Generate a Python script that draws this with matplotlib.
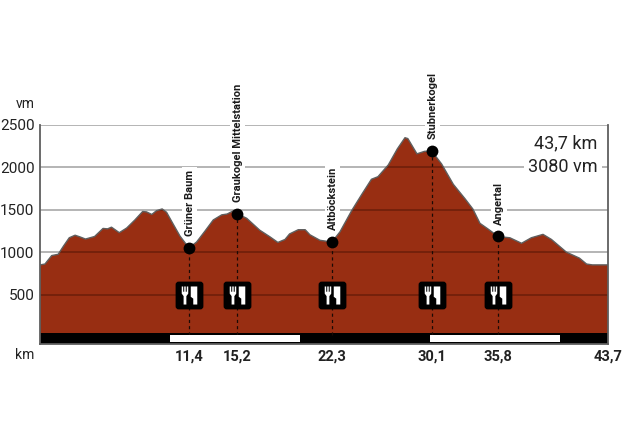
import matplotlib
matplotlib.use("Agg")
import matplotlib.pyplot as plt
from matplotlib.path import Path

# ---------------------------------------------------------------------------
# Data
# ---------------------------------------------------------------------------
km = [0, 0.38, 0.9, 1.4, 1.8, 2.25, 2.7, 3.08, 3.5, 4.2, 4.85, 5.2, 5.5, 6.1,
      6.67, 7.3, 7.9, 8.2, 8.6, 8.97, 9.4, 9.74, 10.25, 10.77, 11.46, 12.05,
      12.7, 13.33, 13.98, 14.4, 14.9, 15.15, 15.9, 16.9, 17.7, 18.3, 18.85,
      19.2, 19.87, 20.4, 20.77, 21.54, 22.46, 23.08, 23.98, 24.75, 25.5, 26,
      26.8, 27.5, 28.08, 28.3, 29, 29.6, 30.15, 30.9, 31.8, 32.7, 33.3, 33.85,
      34.5, 35.25, 36.15, 37.05, 37.8, 38.7, 39.35, 40.5, 41.5, 42.05, 42.5,
      43.7]
elevation = [850, 860, 960, 975, 1070, 1170, 1200, 1180, 1155, 1185, 1280, 1275,
             1295, 1230, 1285, 1380, 1480, 1475, 1445, 1490, 1510, 1470, 1330,
             1190, 1050, 1120, 1250, 1380, 1440, 1450, 1490, 1455, 1400, 1260,
             1180, 1115, 1150, 1215, 1265, 1265, 1205, 1140, 1120, 1240, 1490,
             1680, 1860, 1890, 2030, 2220, 2350, 2340, 2160, 2190, 2190, 2040,
             1800, 1630, 1510, 1340, 1270, 1185, 1170, 1105, 1170, 1210, 1150,
             1000, 930, 860, 850, 850]

stop_names = ["Grüner Baum", "Graukogel Mittelstation", "Altböckstein",
              "Stubnerkogel", "Angertal"]
stop_km = [11.46, 15.15, 22.46, 30.15, 35.25]   # where they sit on the drawing
stop_elev = [1050, 1455, 1120, 2190, 1185]
stop_labels = ["11,4", "15,2", "22,3", "30,1", "35,8"]

end_km = 43.7
end_label = "43,7"
y_ticks = [500, 1000, 1500, 2000, 2500]
band_edges = [0, 10, 20, 30, 40, 43.7]

FILL = "#982e12"
LINE = "#5f5f5f"
FONT = ["Roboto", "DejaVu Sans"]

W, H = 625, 425
fig = plt.figure(figsize=(W / 100, H / 100), dpi=100)
ax = fig.add_axes([40 / W, (H - 344) / H, 568 / W, (344 - 125) / H])
ax.set_xlim(0, end_km)
ax.set_ylim(-83, 2500)

# gridlines: grey on the white part, dark where they cross the profile
ax.hlines(y_ticks, 0, end_km, color="#a0a0a0", lw=1.1, zorder=1)
poly, = ax.fill(km + [end_km, 0], elevation + [0, 0], color=FILL, lw=0, zorder=2)
dark = ax.hlines(y_ticks, 0, end_km, color="#6b1e0a", lw=1.1, zorder=3)
dark.set_clip_path(poly)
ax.plot(km, elevation, color=LINE, lw=1.0, zorder=4)

# 10 km band along the bottom
ax.fill_between([0, end_km], -83, 47, color="black", lw=0, zorder=5)
for i in range(1, len(band_edges) - 1, 2):
    ax.fill_between(band_edges[i:i + 2], -59, 24, color="white", lw=0, zorder=6)

# ---------------------------------------------------------------------------
# Fork and knife icon on a rounded square, both used as markers
# ---------------------------------------------------------------------------
verts = [(-0.62, 0.15), (-0.62, 0.72), (-0.5, 0.72), (-0.5, 0.3), (-0.42, 0.3),
         (-0.42, 0.72), (-0.3, 0.72), (-0.3, 0.3), (-0.22, 0.3), (-0.22, 0.72),
         (-0.1, 0.72), (-0.1, 0.15), (-0.25, -0.05), (-0.25, -0.72), (-0.47, -0.72),
         (-0.47, -0.05), (-0.62, 0.15),
         (0.1, 0.72), (0.62, 0.72), (0.62, -0.72), (0.3, -0.72), (0.3, -0.25),
         (0.1, -0.1), (0.1, 0.72)]
codes = [Path.MOVETO] + [Path.LINETO] * 16 + [Path.MOVETO] + [Path.LINETO] * 6
icon = Path(verts, codes)

r = 0.22
box_verts = [(-1 + r, -1), (1 - r, -1), (1, -1), (1, -1 + r), (1, 1 - r), (1, 1),
             (1 - r, 1), (-1 + r, 1), (-1, 1), (-1, 1 - r), (-1, -1 + r), (-1, -1),
             (-1 + r, -1), (-1 + r, -1)]
box_codes = [Path.MOVETO, Path.LINETO, Path.CURVE3, Path.CURVE3, Path.LINETO,
             Path.CURVE3, Path.CURVE3, Path.LINETO, Path.CURVE3, Path.CURVE3,
             Path.LINETO, Path.CURVE3, Path.CURVE3, Path.CLOSEPOLY]
box = Path(box_verts, box_codes)

for x, name, y in zip(stop_km, stop_names, stop_elev):
    ax.plot([x, x], [24, y], color="#1a0a05", lw=0.9, ls=(0, (2.5, 2.5)), zorder=5)
    ax.plot(x, y, "o", color="black", ms=8.5, mew=0, zorder=8)
    # below the fill, so the white halo only breaks the gridlines
    ax.annotate(name, (x, y), xytext=(0.5, 8.5), textcoords="offset points",
                rotation=90, ha="center", va="bottom", fontsize=8,
                fontweight="bold", family=FONT, color="#1a1a1a", zorder=1.5,
                bbox=dict(fc="white", ec="none", pad=2))
    ax.plot(x, 497, marker=box, color="black", ms=20, mew=0, zorder=7)
    ax.plot(x, 497, marker=icon, color="white", ms=13, mew=0, zorder=8)

# distance and climb
ax.text(42.9, 2280, "43,7 km", ha="right", va="center", fontsize=13,
        family=FONT, color="#222222", zorder=9)
ax.text(42.9, 2000, "3080 vm", ha="right", va="center", fontsize=13,
        family=FONT, color="#222222", zorder=9,
        bbox=dict(fc="white", ec="none", pad=3))

ax.spines["top"].set_visible(False)
for s in ["left", "right", "bottom"]:
    ax.spines[s].set_color(LINE)
    ax.spines[s].set_linewidth(1.3)
    ax.spines[s].set_zorder(10)

ax.set_yticks(y_ticks)
ax.set_yticklabels([str(v) for v in y_ticks], family=FONT, fontsize=11, color="#222222")
ax.set_xticks(stop_km + [end_km])
ax.set_xticklabels(stop_labels + [end_label], family=FONT, fontsize=10.5,
                   fontweight="bold", color="#222222")
ax.tick_params(length=0, pad=4)
ax.tick_params(axis="x", pad=4)

fig.text(35 / W, (H - 104) / H, "vm", ha="right", va="center", fontsize=10,
         family=FONT, color="#222222")
fig.text(34 / W, (H - 355) / H, "km", ha="right", va="center", fontsize=10,
         family=FONT, color="#222222")

fig.savefig("out.png", dpi=100)
